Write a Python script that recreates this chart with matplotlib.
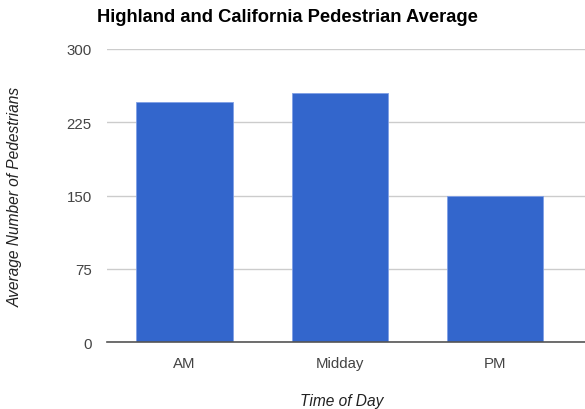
import matplotlib.pyplot as plt

plt.rcParams['font.family'] = ['Liberation Sans', 'DejaVu Sans']

# data
times = ['AM', 'Midday', 'PM']
pedestrians = [245.5, 254.5, 149.5]
y_ticks = [0, 75, 150, 225, 300]

fig = plt.figure(figsize=(5.85, 4.10), dpi=100)
ax = fig.add_axes([107 / 585, 66.7 / 410, 478 / 585, 293.3 / 410])

ax.bar(range(len(times)), pedestrians, width=0.62, color='#3366cc',
       edgecolor='#7f9fe6', linewidth=0.6, zorder=3)

ax.set_xlim(-0.5, 2.58)
ax.set_ylim(0, 300)
ax.set_yticks(y_ticks)
ax.set_xticks(range(len(times)))
ax.set_xticklabels(times)

ax.grid(axis='y', color='#cccccc', linewidth=1, zorder=0)
for side in ['top', 'right', 'left']:
    ax.spines[side].set_visible(False)
ax.spines['bottom'].set_color('#555555')
ax.spines['bottom'].set_linewidth(1.2)
ax.spines['bottom'].set_zorder(4)

ax.tick_params(axis='both', length=0, labelsize=10.8, labelcolor='#444444')
ax.tick_params(axis='y', pad=11)
ax.tick_params(axis='x', pad=10)

fig.text(97 / 585, 1 - 22 / 410, 'Highland and California Pedestrian Average',
         fontsize=13.2, fontweight='bold', color='#000000', ha='left', va='baseline')
fig.text(342 / 585, 1 - 402 / 410, 'Time of Day', fontsize=11.2, style='italic',
         color='#222222', ha='center', va='center')
fig.text(15 / 585, 1 - 197 / 410, 'Average Number of Pedestrians', fontsize=11.2,
         style='italic', color='#222222', ha='center', va='center', rotation=90)

fig.savefig('out.png', dpi=100)
